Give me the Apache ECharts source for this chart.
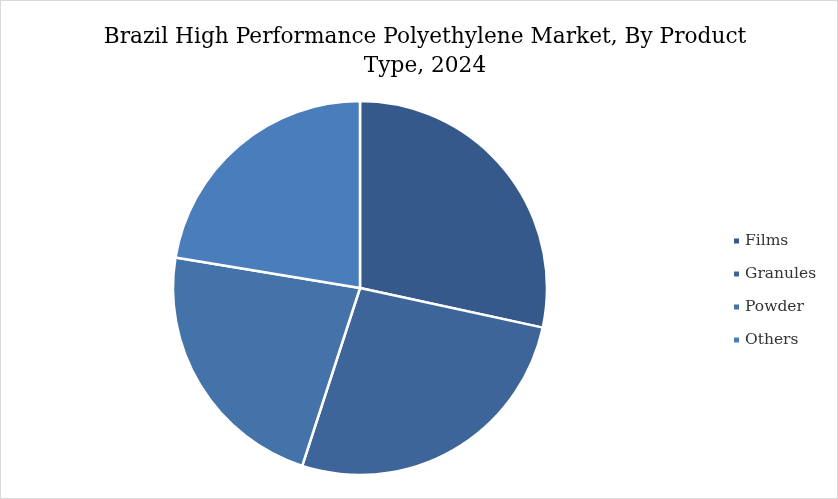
<!DOCTYPE html>
<html>
<head>
<meta charset="utf-8">
<script src="https://cdn.jsdelivr.net/npm/echarts@6/dist/echarts.min.js"></script>
<style>
html,body{margin:0;padding:0;background:#fff;}
#main{width:836px;height:497px;border:1px solid #d9d9d9;}
</style>
</head>
<body>
<div id="main"></div>
<script>
var categories = ['Films', 'Granules', 'Powder', 'Others'];
var values = [28.4, 26.6, 22.6, 22.4];
var colors = ['#35598a', '#3d6599', '#4473aa', '#4a7dbb'];

var chart = echarts.init(document.getElementById('main'));
chart.setOption({
    animation: false,
    title: {
        text: 'Brazil High Performance Polyethylene Market, By Product\nType, 2024',
        left: 419,
        textAlign: 'center',
        top: 17,
        textStyle: {
            fontFamily: 'DejaVu Serif',
            fontWeight: 'normal',
            fontSize: 21.7,
            lineHeight: 29,
            color: '#000'
        }
    },
    legend: {
        orient: 'vertical',
        left: 726,
        top: 227,
        itemWidth: 7,
        itemHeight: 7,
        itemGap: 17,
        icon: 'rect',
        data: categories,
        textStyle: {fontFamily: 'DejaVu Serif', fontSize: 15.5, color: '#333'}
    },
    series: [{
        type: 'pie',
        center: [359, 287],
        radius: 187,
        startAngle: 90,
        clockwise: true,
        label: {show: false},
        labelLine: {show: false},
        itemStyle: {borderColor: '#fff', borderWidth: 2.5},
        data: categories.map(function (c, i) {
            return {name: c, value: values[i], itemStyle: {color: colors[i]}};
        })
    }]
});
</script>
</body>
</html>
